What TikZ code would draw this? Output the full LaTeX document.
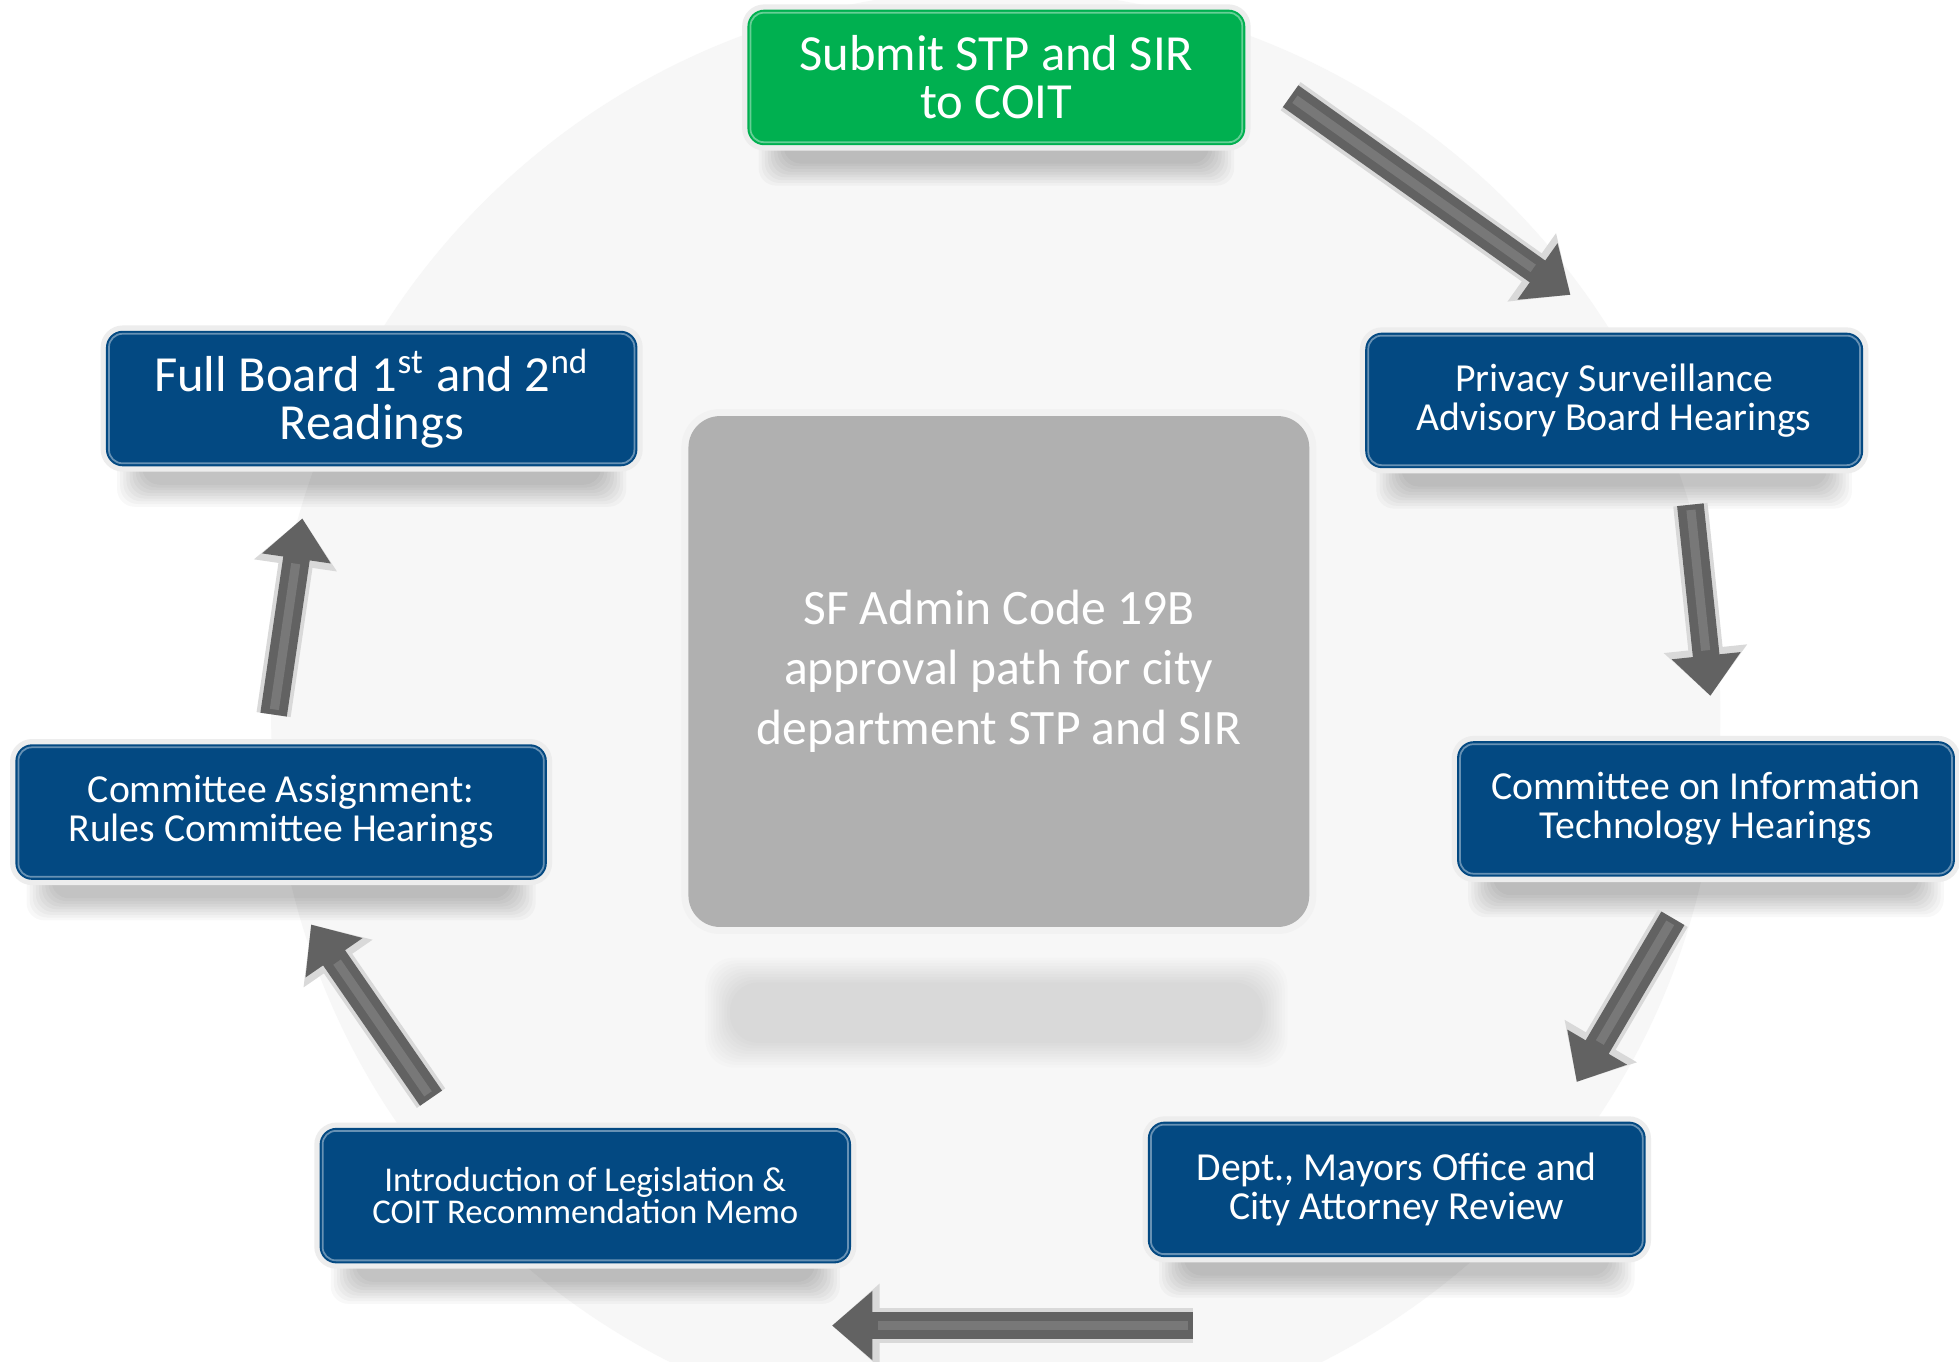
\documentclass[tikz,border=0pt]{standalone}
\usepackage{fontspec}
\setmainfont{Carlito}
\usetikzlibrary{arrows.meta}

\definecolor{boxblue}{RGB}{3,73,130}
\definecolor{boxgreen}{RGB}{0,176,80}
\definecolor{coregray}{RGB}{176,176,176}
\definecolor{ringgray}{RGB}{247,247,247}
\definecolor{arrowgray}{RGB}{98,98,98}
\definecolor{stripegray}{RGB}{120,120,120}

\pgfdeclarelayer{bg}
\pgfsetlayers{bg,main}

\tikzset{
  stage/.style={rounded corners=4.8pt, fill=boxblue, text=white, align=center,
    inner sep=0pt, minimum width=4.98cm, minimum height=1.356cm,
    preaction={draw=black!7, line width=3pt}},
  widestage/.style={stage, minimum width=5.316cm},
  bigtext/.style={font=\fontsize{14.4}{13.7}\selectfont},
  midtext/.style={font=\fontsize{11.3}{11}\selectfont},
  smalltext/.style={font=\fontsize{9.9}{9.2}\selectfont},
  innerline/.style={draw=white, draw opacity=0.4, line width=0.5pt, rounded corners=3.8pt},
  flow/.style={draw=arrowgray, line width=7.6pt, -{Triangle[width=19pt,length=11.5pt]},
    preaction={draw=black!15, line width=9.8pt, -{Triangle[width=23pt,length=13.5pt]}},
    postaction={draw=stripegray, line width=2.6pt, -, shorten >=13pt, shorten <=1.5pt}}
}

\begin{document}
\begin{tikzpicture}[x=0.012494cm, y=-0.012494cm]
  \useasboundingbox (0,0) rectangle (1568,1090);

  % steps of the cycle
  \node[stage, fill=boxgreen, bigtext] (green) at (797.5,62) {Submit STP and SIR\\to COIT};
  \node[stage, midtext] (privacy) at (1292,320.5) {Privacy Surveillance\\Advisory Board Hearings};
  \node[stage, midtext] (coit) at (1365.5,647.5) {Committee on Information\\Technology Hearings};
  \node[stage, midtext] (dept) at (1118,952) {Dept., Mayors Office and\\City Attorney Review};
  \node[widestage, smalltext] (intro) at (468.5,957) {Introduction of Legislation \&\\COIT Recommendation Memo};
  \node[widestage, midtext] (rules) at (225,650) {Committee Assignment:\\Rules Committee Hearings};
  \node[widestage, bigtext] (board) at (297.5,319) {Full Board 1\textsuperscript{st} and 2\textsuperscript{nd}\\Readings};

  % centre box
  \node[rounded corners=9pt, fill=coregray, text=white, align=center, inner sep=0pt,
        minimum width=6.21cm, minimum height=5.11cm, preaction={draw=black!5, line width=4pt},
        font=\fontsize{14.1}{17.1}\selectfont] (core) at (799.5,537.5)
        {SF Admin Code 19B\\approval path for city\\department STP and SIR};

  \foreach \n in {green,privacy,coit,dept,intro,rules,board}
    \draw[innerline] ([shift={(3,3)}]\n.north west) rectangle ([shift={(-3,-3)}]\n.south east);

  \begin{pgfonlayer}{bg}
    \fill[white] (0,0) rectangle (1568,1090);
    \fill[ringgray] (797,572) circle (580);
    \foreach \n in {green,privacy,coit,dept,intro,rules,board}
      \foreach \k in {1,...,9}
        \fill[black, opacity=0.027, rounded corners=5pt]
          ([shift={({32-2.5*\k},-30)}]\n.south west) rectangle ([shift={({-32+2.5*\k},{12+2.2*\k})}]\n.south east);
    \foreach \k in {1,...,10}
      \fill[black, opacity=0.011, rounded corners=8pt]
        ([shift={({36-2.2*\k},{46-2.2*\k})}]core.south west) rectangle ([shift={({-40+2.2*\k},{90+2.2*\k})}]core.south east);
  \end{pgfonlayer}

  % arrows between the steps
  \coordinate (s1) at (1033,77);  \coordinate (e1) at (1257,236);
  \coordinate (s2) at (1353,404); \coordinate (e2) at (1369,557);
  \coordinate (s3) at (1339,735); \coordinate (e3) at (1262,866);
  \coordinate (s4) at (955,1061); \coordinate (e4) at (666,1061);
  \coordinate (s5) at (345,879);  \coordinate (e5) at (249,740);
  \coordinate (s6) at (219,572);  \coordinate (e6) at (242,415);
  \foreach \i in {1,...,6}
    \draw[flow] (s\i) -- (e\i);
\end{tikzpicture}
\end{document}
